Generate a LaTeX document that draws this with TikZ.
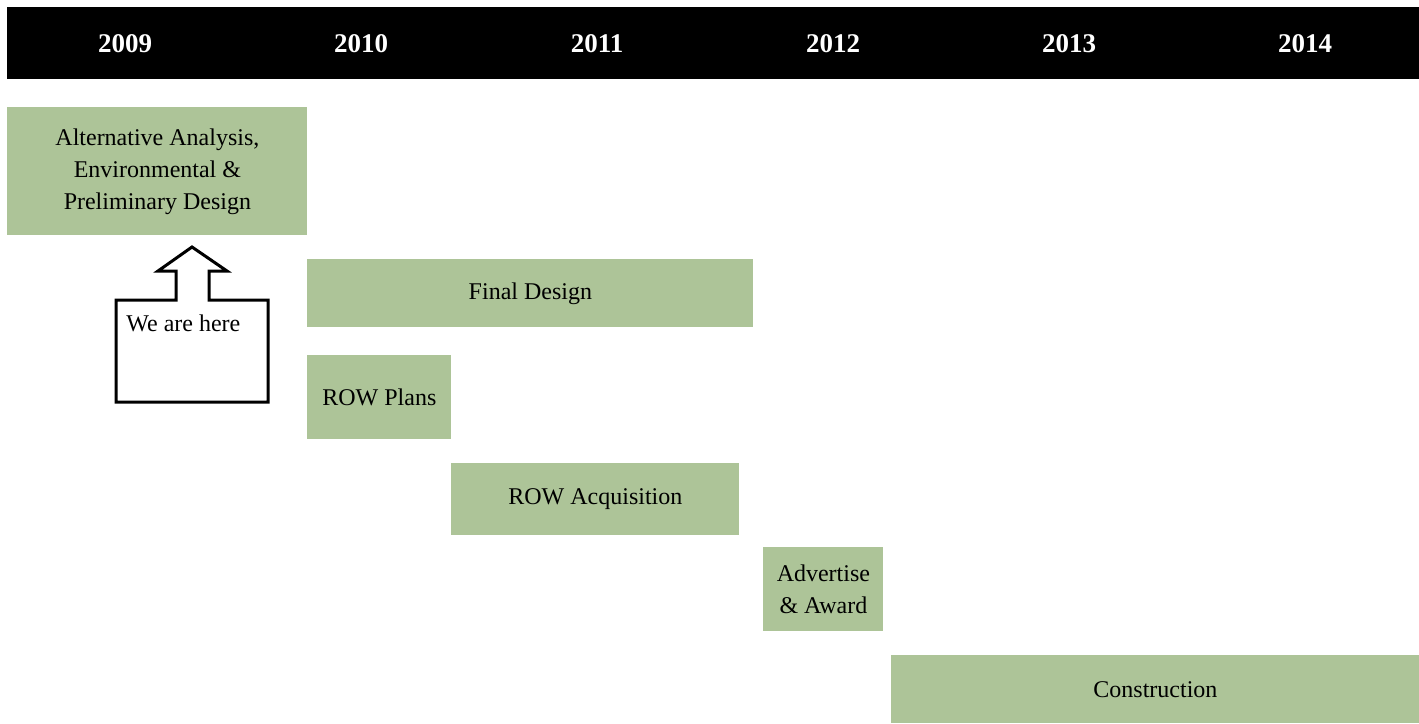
\documentclass[tikz,border=0pt]{standalone}
\usepackage{fontspec}
\setmainfont{Liberation Serif}
\definecolor{phasegreen}{RGB}{173,196,152}
\tikzset{
  phase/.style={fill=phasegreen, anchor=north west, inner sep=0pt, align=center,
    font=\fontsize{12}{16}\selectfont},
  yearlabel/.style={text=white, font=\fontsize{13.5}{16}\selectfont\bfseries}
}
\begin{document}
\begin{tikzpicture}[x=0.5pt, y=-0.5pt]
	\useasboundingbox[fill=white] (0,0) rectangle (1419,723);
	% year bar
	\fill[black] (7,7) rectangle (1419,79);
	\foreach \yr [count=\i from 0] in {2009,2010,2011,2012,2013,2014}
		\node[yearlabel] (y\yr) at (125+236*\i,44) {\yr};
	% phases
	\node[phase, minimum width=150pt, minimum height=64pt] (alt) at (7,107)
		{Alternative Analysis,\\Environmental \&\\Preliminary Design};
	\node[phase, minimum width=223pt, minimum height=34pt] (final) at (307,259) {Final Design};
	\node[phase, minimum width=72pt, minimum height=42pt] (rowplans) at (307,355) {ROW Plans};
	\node[phase, minimum width=144pt, minimum height=36pt] (rowacq) at (451,463) {ROW Acquisition};
	\node[phase, minimum width=60pt, minimum height=42pt] (advert) at (763,547) {Advertise\\\& Award};
	\node[phase, minimum width=264pt, minimum height=34pt] (constr) at (891,655) {Construction};
	% we are here
	\draw[line width=1.5pt, fill=white, line join=miter]
		(116,300) -- (176,300) -- (176,271) -- (158,271) -- (192,247) -- (227,271)
		-- (209,271) -- (209,300) -- (268,300) -- (268,402) -- (116,402) -- cycle;
	\node[anchor=west, font=\fontsize{12}{14}\selectfont, inner sep=0pt] (here) at (126,323) {We are here};
\end{tikzpicture}
\end{document}
